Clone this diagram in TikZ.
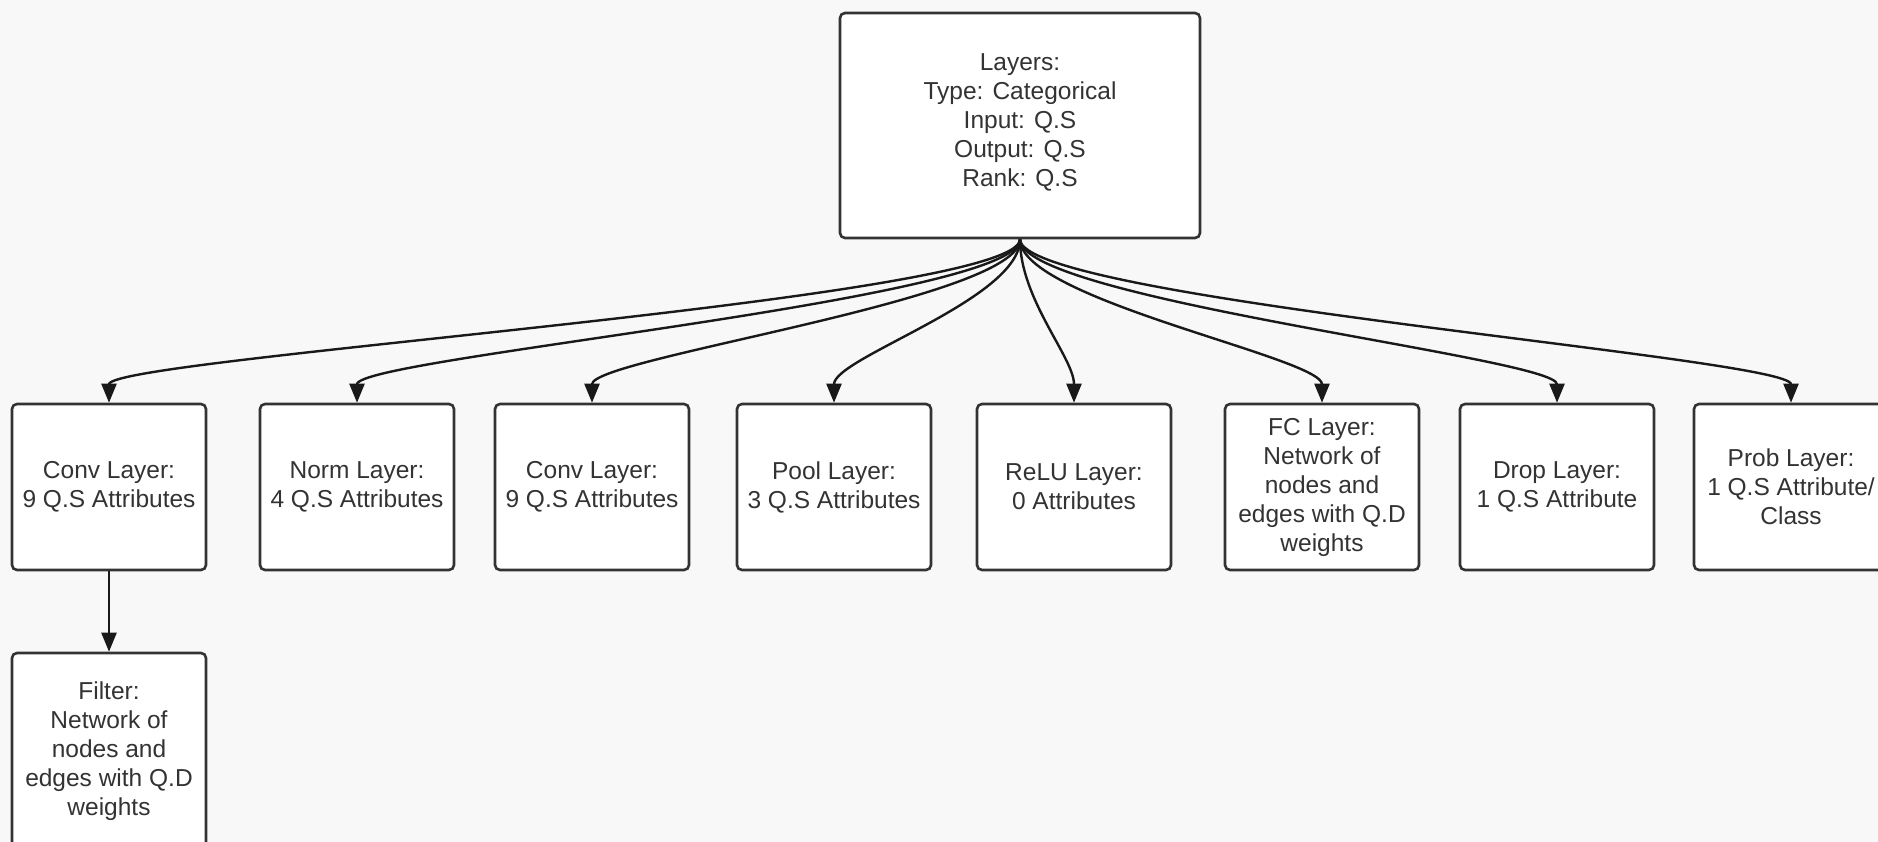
\documentclass[tikz,border=0pt]{standalone}
\usepackage{fontspec}
\setmainfont{Liberation Sans}
\usetikzlibrary{arrows.meta}
\definecolor{bg}{RGB}{248,248,248}
\definecolor{ink}{RGB}{51,51,51}
\begin{document}
\begin{tikzpicture}[x=1pt,y=-1pt,
  box/.style={draw=ink, line width=2.6pt, rounded corners=5pt, fill=white,
    minimum width=194pt, minimum height=166pt, align=center, text=ink,
    font=\fontsize{24.5}{29}\selectfont, inner sep=2pt},
  link/.style={draw=black!90, line width=2.4pt, -{Triangle[length=19pt,width=15pt]}}
]
\useasboundingbox (0,0) rectangle (1878,842);
\clip (0,0) rectangle (1878,842);
\fill[bg] (0,0) rectangle (1878,842);

\node[box, minimum width=360pt, minimum height=225pt] (top) at (1020,125.5)
  {Layers:\\Type: Categorical\\Input: Q.S\\Output: Q.S\\Rank: Q.S\rule[-10pt]{0pt}{0pt}};

\node[box] (c1) at (109,487) {Conv Layer:\\9 Q.S Attributes};
\node[box] (c2) at (357,487) {Norm Layer:\\4 Q.S Attributes};
\node[box] (c3) at (592,487) {Conv Layer:\\9 Q.S Attributes};
\node[box] (c4) at (834,487) {Pool Layer:\\3 Q.S Attributes};
\node[box] (c5) at (1074,487) {ReLU Layer:\\0 Attributes};
\node[box] (c6) at (1322,487) {FC Layer:\\Network of\\nodes and\\edges with Q.D\\weights};
\node[box] (c7) at (1557,487) {Drop Layer:\\1 Q.S Attribute};
\node[box] (c8) at (1791,487) {Prob Layer:\\1 Q.S Attribute/\\Class};

\node[box, minimum height=196pt] (filter) at (109,751)
  {Filter:\\Network of\\nodes and\\edges with Q.D\\weights};

\foreach \n in {c1,c2,c3,c4,c5,c6,c7,c8}{
  \draw[link] (top.south) .. controls +(0,60) and +(0,-45) .. (\n.north);
}
\draw[link] (c1.south) -- (filter.north);
\end{tikzpicture}
\end{document}
